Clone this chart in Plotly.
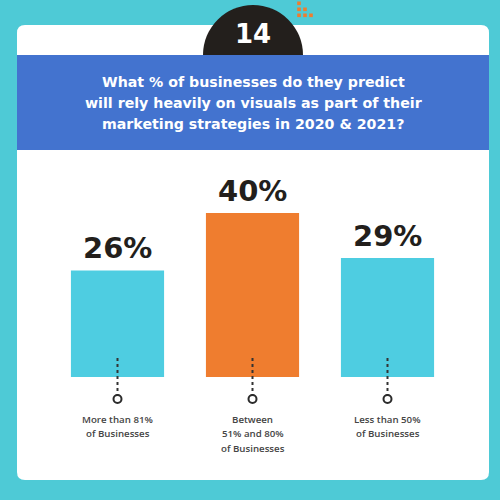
import plotly.graph_objects as go

# chart data
category_lines = [["More than 81%", "of Businesses"],
                  ["Between", "51% and 80%", "of Businesses"],
                  ["Less than 50%", "of Businesses"]]
values = [26, 40, 29]
bar_colors = ["#4ecde1", "#ef7d2f", "#4ecde1"]
badge_number = "14"
title_lines = ["What % of businesses do they predict",
               "will rely heavily on visuals as part of their",
               "marketing strategies in 2020 & 2021?"]

W = H = 500


def px_x(p):
    return p / W


def px_y(p):
    # pixel from top -> paper fraction from bottom
    return 1 - p / H


def rounded_rect(x0, y0, x1, y1, r):
    # path in paper coords, pixel inputs
    rx, ry = r / W, r / H
    X0, X1 = px_x(x0), px_x(x1)
    Y0, Y1 = px_y(y1), px_y(y0)
    return (f"M {X0 + rx} {Y0} L {X1 - rx} {Y0} Q {X1} {Y0} {X1} {Y0 + ry} "
            f"L {X1} {Y1 - ry} Q {X1} {Y1} {X1 - rx} {Y1} "
            f"L {X0 + rx} {Y1} Q {X0} {Y1} {X0} {Y1 - ry} "
            f"L {X0} {Y0 + ry} Q {X0} {Y0} {X0 + rx} {Y0} Z")


xs = list(range(len(values)))

fig = go.Figure(go.Bar(
    x=xs, y=values,
    marker=dict(color=bar_colors, line=dict(width=0)),
    width=0.69,
    hoverinfo="skip",
))

shapes = []
# white card
shapes.append(dict(type="path", xref="paper", yref="paper", layer="below",
                   path=rounded_rect(17, 25, 489, 480, 8),
                   fillcolor="white", line=dict(width=0)))
# black badge circle
shapes.append(dict(type="circle", xref="paper", yref="paper", layer="below",
                   x0=px_x(203), x1=px_x(303), y0=px_y(105), y1=px_y(5),
                   fillcolor="#231f1c", line=dict(width=0)))
# blue banner
shapes.append(dict(type="rect", xref="paper", yref="paper", layer="below",
                   x0=px_x(17), x1=px_x(489), y0=px_y(150), y1=px_y(55),
                   fillcolor="#4373cf", line=dict(width=0)))
# orange dot triangle
for row, n in enumerate([1, 2, 3]):
    for col in range(n):
        cx, cy = 299 + col * 6, 3.3 + row * 6
        shapes.append(dict(type="rect", xref="paper", yref="paper", layer="below",
                           x0=px_x(cx - 1.8), x1=px_x(cx + 1.8),
                           y0=px_y(cy + 1.8), y1=px_y(cy - 1.8),
                           fillcolor="#ef7d2f", line=dict(width=0)))
# dotted leaders and small rings under every bar
for i in xs:
    shapes.append(dict(type="line", xref="x", yref="paper", layer="above",
                       x0=i, x1=i, y0=px_y(358), y1=px_y(395),
                       line=dict(color="#333333", width=2, dash="dot")))
    shapes.append(dict(type="circle", xref="x", yref="paper", layer="above",
                       xsizemode="pixel", ysizemode="pixel",
                       xanchor=i, yanchor=px_y(399),
                       x0=-4, x1=4, y0=-4, y1=4,
                       fillcolor="white", line=dict(color="#2b2b2b", width=2)))

annotations = []
annotations.append(dict(text=f"<b>{badge_number}</b>", xref="paper", yref="paper",
                        x=px_x(253), y=px_y(34), xanchor="center", yanchor="middle",
                        showarrow=False,
                        font=dict(family="DejaVu Sans", size=26, color="white")))
for k, line in enumerate(title_lines):
    annotations.append(dict(text=f"<b>{line}</b>", xref="paper", yref="paper",
                            x=px_x(253), y=px_y(82 + 21 * k),
                            xanchor="center", yanchor="middle", showarrow=False,
                            font=dict(family="DejaVu Sans", size=14.2, color="white")))
for i, v in enumerate(values):
    annotations.append(dict(text=f"<b>{v}%</b>", x=i, y=v, xref="x", yref="y",
                            xanchor="center", yanchor="bottom", yshift=3, showarrow=False,
                            font=dict(family="DejaVu Sans", size=29, color="#231f1c")))
    for k, line in enumerate(category_lines[i]):
        annotations.append(dict(text=line, x=i, xref="x", yref="paper",
                                y=px_y(419 + 14.5 * k), xanchor="center", yanchor="middle",
                                showarrow=False,
                                font=dict(family="Open Sans", size=9.7, color="#444444",
                                          weight=600)))

fig.update_layout(
    width=W, height=H,
    margin=dict(l=0, r=0, t=0, b=0),
    paper_bgcolor="#4ecad6",
    plot_bgcolor="rgba(0,0,0,0)",
    showlegend=False,
    shapes=shapes,
    annotations=annotations,
    xaxis=dict(range=[-117.5 / 135, (W - 117.5) / 135], visible=False, fixedrange=True),
    yaxis=dict(range=[-123 / 4.1, (H - 123) / 4.1], visible=False, fixedrange=True),
)

# drop the default body margin so the figure sits flush in the window
fig.write_html("out.html", config={"displayModeBar": False},
               post_script="document.body.style.margin='0';")
